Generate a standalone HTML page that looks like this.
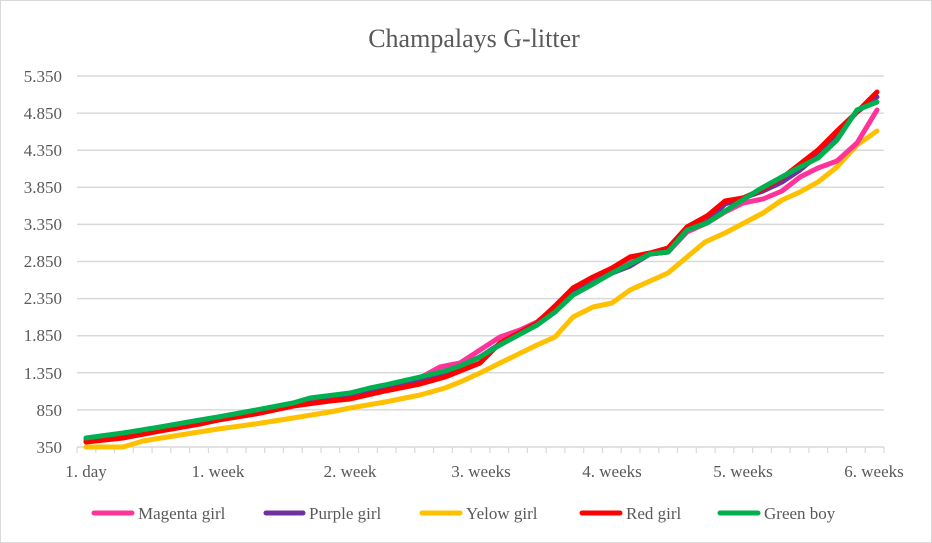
<!DOCTYPE html>
<html><head><style>
body{margin:0;background:#fff}
svg{display:block}
text{font-family:"Liberation Serif",serif;fill:#595959}
</style></head><body>
<svg width="932" height="543" viewBox="0 0 932 543">
<rect x="0.5" y="0.5" width="931" height="542" fill="#fff" stroke="#d9d9d9"/>
<text x="474" y="47" font-size="26" text-anchor="middle">Champalays G-litter</text>
<g stroke="#d9d9d9" stroke-width="1.5">
<line x1="77" x2="884" y1="76" y2="76"/><line x1="77" x2="884" y1="113.1" y2="113.1"/>
<line x1="77" x2="884" y1="150.2" y2="150.2"/><line x1="77" x2="884" y1="187.3" y2="187.3"/>
<line x1="77" x2="884" y1="224.4" y2="224.4"/><line x1="77" x2="884" y1="261.5" y2="261.5"/>
<line x1="77" x2="884" y1="298.6" y2="298.6"/><line x1="77" x2="884" y1="335.7" y2="335.7"/>
<line x1="77" x2="884" y1="372.8" y2="372.8"/><line x1="77" x2="884" y1="409.9" y2="409.9"/>
<line x1="77" x2="884" y1="447" y2="447"/>
</g>
<path stroke="#d9d9d9" stroke-width="1.2" fill="none" d="M77,447v6M95.8,447v6M114.5,447v6M133.3,447v6M152.1,447v6M170.8,447v6M189.6,447v6M208.4,447v6M227.1,447v6M245.9,447v6M264.7,447v6M283.4,447v6M302.2,447v6M321,447v6M339.7,447v6M358.5,447v6M377.3,447v6M396,447v6M414.8,447v6M433.6,447v6M452.3,447v6M471.1,447v6M489.9,447v6M508.6,447v6M527.4,447v6M546.2,447v6M564.9,447v6M583.7,447v6M602.5,447v6M621.2,447v6M640,447v6M658.8,447v6M677.5,447v6M696.3,447v6M715.1,447v6M733.8,447v6M752.6,447v6M771.4,447v6M790.1,447v6M808.9,447v6M827.7,447v6M846.4,447v6M865.2,447v6M884,447v6"/>
<g font-size="17" text-anchor="end">
<text x="62" y="82">5.350</text><text x="62" y="119">4.850</text><text x="62" y="156">4.350</text>
<text x="62" y="193">3.850</text><text x="62" y="230">3.350</text><text x="62" y="267">2.850</text>
<text x="62" y="304">2.350</text><text x="62" y="341">1.850</text><text x="62" y="379">1.350</text>
<text x="62" y="416">850</text><text x="62" y="453">350</text>
</g>
<g font-size="17" text-anchor="middle">
<text x="86" y="477">1. day</text><text x="218" y="477">1. week</text><text x="350" y="477">2. week</text>
<text x="481" y="477">3. weeks</text><text x="612" y="477">4. weeks</text><text x="743" y="477">5. weeks</text>
<text x="874" y="477">6. weeks</text>
</g>
<g fill="none" stroke-width="5" stroke-linejoin="round" stroke-linecap="round">
<polyline stroke="#ffc000" points="86,447 123,447 143,441 180,435 218,429 255,424 293,418 330,412 350,408 385,402 420,395 445,388 460,382 480,373 500,363 537,345 555,337 573,317 593,307 612,303 630,290 668,273 687,257 705,242 725,233 763,213 782,200 800,192 818,182 837,167 857,145 877,131"/>
<polyline stroke="#ff3399" points="86,439 123,434 160,428 200,421 218,418 255,413 293,405 330,399 350,395 385,387 420,378 440,367 460,363 480,350 500,337 520,330 537,322 555,307 573,294 612,272 630,260 650,254 668,252 687,232 707,223 725,212 743,203 763,199 782,191 800,177 818,168 837,161 857,143 877,110"/>
<polyline stroke="#7030a0" points="86,441 123,437 160,430 200,423 218,420 255,414 293,406 330,400 350,396 385,389 420,380 445,372 460,366 480,357 500,344 537,325 555,312 573,293 593,283 612,273 630,266 650,254 668,252 687,230 707,222 725,204 743,198 763,191 782,182 800,170 818,155 837,134 857,112 877,97"/>
<polyline stroke="#ff0000" points="86,442 123,438 160,431 200,424 218,420 255,414 293,406 330,401 350,399 385,391 420,384 445,377 460,371 480,363 500,343 537,323 555,306 573,288 593,277 612,268 630,257 650,253 668,248 687,227 707,216 725,201 743,198 763,189 782,178 800,164 818,150 837,131 857,112 877,92"/>
<polyline stroke="#00b050" points="86,438 123,433 160,427 200,420 218,417 240,413 293,403 310,398 350,393 370,388 385,385 420,377 445,371 460,366 480,357 500,345 537,325 555,312 573,295 593,284 612,273 630,264 650,254 668,252 687,230 707,223 733,206 760,189 780,178 800,167 818,158 837,140 857,110 877,102"/>
</g>
<g font-size="17" stroke-width="5" stroke-linecap="round">
<line x1="94" x2="132" y1="513" y2="513" stroke="#ff3399"/><text x="138" y="519">Magenta girl</text>
<line x1="266" x2="303" y1="513" y2="513" stroke="#7030a0"/><text x="309" y="519">Purple girl</text>
<line x1="422" x2="460" y1="513" y2="513" stroke="#ffc000"/><text x="466" y="519">Yelow girl</text>
<line x1="582" x2="620" y1="513" y2="513" stroke="#ff0000"/><text x="626" y="519">Red girl</text>
<line x1="720" x2="758" y1="513" y2="513" stroke="#00b050"/><text x="764" y="519">Green boy</text>
</g>
</svg>
</body></html>
